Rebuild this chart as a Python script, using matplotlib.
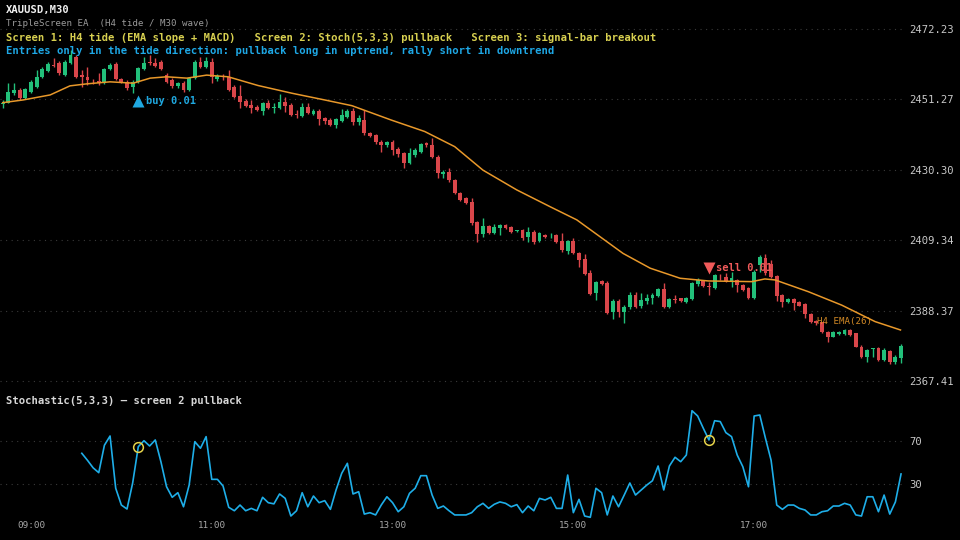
import matplotlib
matplotlib.use("Agg")
import matplotlib.pyplot as plt
import numpy as np

plt.rcParams['font.family'] = ['DejaVu Sans Mono']

# ---- data (M30 bars, oldest first) ----
opens = [2449.9, 2450.3, 2453.1, 2454.1, 2451.8, 2453.6, 2455.0, 2458.0, 2459.8, 2461.5,
         2462.2, 2458.5, 2462.1, 2464.0, 2458.5, 2458.0, 2456.5, 2456.8, 2456.2, 2460.2,
         2461.8, 2457.2, 2456.5, 2455.0, 2456.5, 2460.2, 2462.5, 2462.0, 2462.5, 2458.5,
         2457.0, 2455.3, 2456.2, 2454.1, 2457.6, 2462.5, 2461.0, 2462.5, 2457.2, 2458.2,
         2457.9, 2455.0, 2452.4, 2450.8, 2449.6, 2449.1, 2447.8, 2450.1, 2448.8, 2448.8,
         2450.6, 2449.6, 2446.8, 2446.4, 2449.1, 2446.8, 2447.8, 2445.6, 2445.1, 2443.6,
         2444.8, 2446.1, 2447.9, 2444.6, 2445.1, 2441.4, 2440.7, 2438.7, 2437.7, 2438.7,
         2436.5, 2435.2, 2432.2, 2434.7, 2435.5, 2438.2, 2437.7, 2434.2, 2429.0, 2429.7,
         2427.3, 2423.5, 2421.8, 2420.8, 2414.8, 2411.2, 2413.6, 2411.6, 2413.1, 2414.0,
         2413.4, 2412.1, 2412.4, 2410.2, 2411.9, 2409.2, 2411.0, 2410.5, 2411.0, 2409.1,
         2406.2, 2409.2, 2405.4, 2403.6, 2399.5, 2393.5, 2397.3, 2396.5, 2388.0, 2391.3,
         2388.0, 2389.5, 2393.0, 2389.7, 2391.3, 2392.0, 2392.8, 2394.7, 2389.5, 2391.8,
         2392.0, 2390.8, 2391.8, 2396.2, 2397.2, 2395.6, 2395.2, 2398.5, 2398.5, 2397.0,
         2397.5, 2396.0, 2395.0, 2392.2, 2401.9, 2404.1, 2402.2, 2398.8, 2393.0, 2390.8,
         2391.8, 2390.8, 2390.2, 2387.4, 2385.3, 2384.9, 2382.1, 2380.6, 2381.3, 2381.3,
         2382.6, 2381.6, 2377.6, 2374.6, 2376.8, 2377.1, 2373.7, 2376.3, 2373.0, 2374.2]
highs = [2451.1, 2456.1, 2456.1, 2454.7, 2454.7, 2457.0, 2460.0, 2460.9, 2462.5, 2463.5,
         2462.7, 2463.0, 2466.0, 2464.5, 2460.0, 2461.0, 2457.3, 2459.0, 2460.6, 2462.1,
         2462.3, 2457.6, 2457.0, 2457.0, 2460.9, 2464.0, 2464.5, 2463.6, 2463.0, 2459.1,
         2457.6, 2456.5, 2456.7, 2457.9, 2463.0, 2463.9, 2463.9, 2463.6, 2458.8, 2458.8,
         2460.0, 2455.6, 2455.6, 2451.4, 2451.1, 2449.6, 2450.6, 2451.1, 2450.1, 2452.8,
         2452.1, 2450.2, 2448.1, 2450.1, 2450.1, 2448.3, 2448.3, 2446.1, 2445.6, 2445.7,
         2448.4, 2448.4, 2448.8, 2446.6, 2448.1, 2441.7, 2441.1, 2439.2, 2439.0, 2439.2,
         2437.2, 2435.6, 2436.8, 2436.7, 2438.3, 2438.6, 2439.7, 2434.6, 2430.2, 2430.8,
         2427.7, 2423.8, 2422.3, 2421.8, 2415.2, 2415.9, 2413.9, 2414.2, 2414.2, 2414.3,
         2413.7, 2412.5, 2412.7, 2413.2, 2412.4, 2411.8, 2411.3, 2411.4, 2411.3, 2411.4,
         2409.5, 2409.9, 2405.8, 2405.2, 2400.5, 2397.3, 2397.6, 2397.3, 2391.7, 2391.7,
         2389.9, 2394.0, 2394.0, 2393.7, 2393.3, 2393.7, 2395.1, 2396.5, 2392.1, 2393.0,
         2392.1, 2392.4, 2396.9, 2398.1, 2397.5, 2397.0, 2399.3, 2399.2, 2399.5, 2400.0,
         2397.8, 2396.3, 2395.4, 2400.5, 2404.9, 2405.1, 2403.4, 2399.1, 2393.3, 2392.1,
         2392.1, 2391.1, 2390.6, 2387.7, 2385.6, 2385.1, 2382.4, 2382.3, 2382.4, 2382.9,
         2382.9, 2381.8, 2378.0, 2376.9, 2377.3, 2377.4, 2377.1, 2376.6, 2375.0, 2378.3]
lows = [2448.6, 2450.1, 2452.6, 2451.1, 2451.4, 2453.2, 2454.7, 2457.6, 2459.4, 2461.0,
        2458.5, 2458.2, 2461.8, 2457.6, 2455.0, 2455.6, 2455.9, 2455.6, 2455.9, 2459.9,
        2456.9, 2456.2, 2454.1, 2453.1, 2456.2, 2459.9, 2461.5, 2460.9, 2459.9, 2456.2,
        2454.8, 2454.8, 2453.6, 2453.8, 2457.2, 2460.6, 2460.6, 2456.1, 2456.7, 2457.0,
        2453.8, 2451.7, 2448.6, 2449.0, 2447.1, 2447.7, 2446.6, 2448.4, 2447.1, 2448.4,
        2447.4, 2446.2, 2445.6, 2446.0, 2446.8, 2446.5, 2443.6, 2443.9, 2443.2, 2442.7,
        2444.4, 2445.7, 2443.6, 2443.6, 2440.8, 2440.1, 2438.1, 2435.7, 2437.2, 2434.7,
        2434.2, 2430.8, 2431.9, 2434.2, 2435.2, 2437.2, 2433.8, 2427.8, 2427.8, 2426.8,
        2423.0, 2420.9, 2420.0, 2414.0, 2408.9, 2410.2, 2411.2, 2411.2, 2410.9, 2412.7,
        2411.5, 2411.8, 2409.5, 2408.9, 2408.2, 2408.8, 2410.1, 2409.9, 2408.5, 2405.9,
        2405.2, 2405.1, 2401.3, 2399.0, 2393.0, 2391.5, 2396.0, 2387.4, 2385.8, 2386.6,
        2384.6, 2388.8, 2389.1, 2389.1, 2390.3, 2390.3, 2392.4, 2389.1, 2389.1, 2390.5,
        2390.9, 2390.5, 2391.5, 2395.8, 2395.4, 2393.0, 2394.8, 2397.5, 2396.9, 2395.5,
        2393.8, 2394.2, 2391.8, 2391.8, 2400.0, 2399.1, 2398.1, 2391.2, 2389.5, 2390.5,
        2388.6, 2389.6, 2386.1, 2384.7, 2384.2, 2381.7, 2379.1, 2380.4, 2381.0, 2381.0,
        2380.8, 2377.4, 2374.3, 2373.2, 2374.6, 2373.4, 2373.4, 2372.6, 2372.6, 2372.7]
closes = [2450.3, 2453.6, 2454.1, 2451.6, 2454.3, 2456.5, 2458.0, 2460.2, 2461.8, 2461.2,
          2459.0, 2462.5, 2464.5, 2457.9, 2458.0, 2457.0, 2456.4, 2456.2, 2460.2, 2461.5,
          2457.2, 2456.5, 2454.6, 2456.5, 2460.5, 2462.2, 2462.0, 2461.2, 2460.2, 2456.5,
          2455.3, 2456.1, 2454.1, 2457.6, 2462.5, 2461.0, 2462.8, 2458.0, 2458.2, 2457.8,
          2454.1, 2452.1, 2450.6, 2449.4, 2448.6, 2448.1, 2450.1, 2448.8, 2449.1, 2450.6,
          2449.4, 2446.6, 2446.5, 2449.1, 2447.1, 2447.8, 2445.3, 2444.8, 2443.6, 2445.3,
          2446.6, 2447.9, 2444.6, 2445.6, 2441.2, 2440.4, 2438.5, 2437.7, 2438.7, 2436.2,
          2434.9, 2432.2, 2435.2, 2436.2, 2437.9, 2437.7, 2434.2, 2429.3, 2429.7, 2427.3,
          2423.3, 2421.3, 2420.3, 2414.4, 2411.2, 2413.6, 2411.6, 2413.2, 2413.9, 2413.1,
          2411.9, 2412.3, 2409.9, 2411.9, 2408.9, 2411.4, 2410.4, 2410.7, 2408.9, 2406.4,
          2409.2, 2405.4, 2403.4, 2399.3, 2393.3, 2397.0, 2396.3, 2387.7, 2391.3, 2388.0,
          2389.5, 2393.0, 2389.5, 2391.5, 2392.2, 2393.0, 2394.7, 2389.5, 2391.7, 2391.6,
          2391.2, 2392.0, 2396.5, 2397.5, 2395.8, 2395.4, 2399.0, 2398.3, 2397.2, 2398.0,
          2396.0, 2394.5, 2392.2, 2400.0, 2404.4, 2399.5, 2398.5, 2392.8, 2391.0, 2391.8,
          2390.5, 2389.8, 2387.3, 2385.1, 2384.6, 2382.1, 2380.6, 2381.9, 2382.1, 2382.6,
          2381.1, 2377.6, 2374.6, 2376.6, 2377.1, 2373.7, 2376.6, 2373.0, 2374.6, 2377.9]

# H4 EMA(26) projected on the M30 bars (bar index, price)
ema_idx = [0, 3.6, 8.4, 11.9, 14.9, 19, 23.1, 26.1, 29, 32.6, 36.1, 39.9, 45.2, 51.2, 57,
           61.8, 68.8, 74.7, 80, 85, 91, 96.9, 101.6, 105.7, 109.8, 114.6, 119.9, 124.9,
           132.6, 134.9, 136.7, 142.6, 148.5, 154.4, 158.9]
ema_val = [2450.3, 2451.1, 2452.6, 2455.3, 2455.9, 2456.5, 2456.1, 2457.6, 2458.0, 2457.6,
           2458.5, 2458.0, 2455.4, 2453.1, 2451.1, 2449.4, 2445.1, 2441.7, 2437.2, 2430.2,
           2424.3, 2419.3, 2415.4, 2410.4, 2405.4, 2401.0, 2398.0, 2397.2, 2397.0, 2397.8,
           2397.5, 2394.0, 2390.0, 2385.1, 2382.6]

# Stochastic(5,3,3) %K, first value at bar 14
stoch_start = 14
stoch = [58.5, 52, 45, 40.5, 66, 74.6, 26, 10.4, 6.7, 30.9,
         64.7, 70.2, 65.3, 70.9, 50.7, 27.4, 17.6, 21.9, 8.8, 29,
         69.3, 63.2, 74, 34.3, 34.3, 28.1, 8.3, 5.1, 10.4, 5.1,
         7.3, 5.1, 17.6, 12.6, 11.5, 20.7, 16.6, 0.2, 5.1, 21.9,
         8.8, 18.8, 12.6, 14.5, 6.4, 24.4, 39.9, 49.2, 20.7, 22.8,
         2, 3.3, 1.2, 10.4, 18.1, 12.6, 4.2, 8.8, 21.3, 26,
         37.7, 37.7, 19.7, 7.3, 9.5, 5.1, 1.2, 1.2, 1.2, 3.3,
         8.8, 12, 7.3, 11.1, 13.3, 12, 8.8, 10.8, 3.3, 9.5,
         5.1, 16.6, 15.1, 17.6, 7.3, 7.3, 38.3, 3.3, 15.7, 0.2,
         -1, 26, 21.9, 1.2, 18.8, 8.8, 19.7, 30.9, 19.7, 24.4,
         29, 33, 46.7, 24.4, 46.7, 54.8, 50.7, 56.9, 98.1, 93.2,
         81.8, 70.9, 88.8, 88, 77.7, 74, 56.9, 46, 27.4, 93.2,
         94.1, 72.5, 52, 10.4, 6.4, 10.4, 10.4, 7.3, 5.8, 1.2,
         1.2, 4.2, 5.1, 9.5, 9.5, 12, 10.4, 1.2, 0.2, 18.1,
         18.1, 4.2, 19.7, 2, 13.3, 39.3]

# signals
buy_bar, buy_price, buy_lot = 24, 2450.8, 0.01
sell_bar, sell_price, sell_lot = 125, 2401.1, 0.01

price_ticks = [2472.23, 2451.27, 2430.30, 2409.34, 2388.37, 2367.41]
time_pos = [5, 37, 69, 101, 133]
time_labels = ['09:00', '11:00', '13:00', '15:00', '17:00']

# ---- colours ----
BG = '#000000'
UP = '#22c07a'
DN = '#d9464a'
EMA_C = '#e8982a'
STO_C = '#1eaee8'
GRID = '#3a3a3a'
TXT = '#c8c8c8'

o = np.array(opens); h = np.array(highs); l = np.array(lows); c = np.array(closes)
x = np.arange(len(o))
cols = np.where(c >= o, UP, DN)

fig = plt.figure(figsize=(9.6, 5.4), dpi=100, facecolor=BG)
ax = fig.add_axes([0, 148 / 540, 905 / 960, 392 / 540], facecolor=BG)
ax2 = fig.add_axes([0, 20 / 540, 905 / 960, 125 / 540], facecolor=BG)

# price panel
for yt in price_ticks:
    ax.axhline(yt, color=GRID, lw=0.8, ls=(0, (1, 4)), zorder=0)
ax.vlines(x, l, h, colors=cols, lw=1, zorder=2)
body = np.maximum(np.abs(c - o), 0.15)
ax.bar(x, body, bottom=np.minimum(o, c), width=0.68, color=cols, zorder=3)
ax.plot(ema_idx, ema_val, color=EMA_C, lw=1.1, zorder=4)
ax.text(144.1, 2385.0, 'H4 EMA(26)', color=EMA_C, fontsize=6.6, va='center', ha='left',
        alpha=0.9, zorder=5)

ax.plot(buy_bar, buy_price, marker='^', ms=8.5, color='#1fa8e0', mec='none', zorder=6)
ax.text(buy_bar + 1.3, buy_price, 'buy %.2f' % buy_lot, color='#1fa8e0', fontsize=7.5,
        fontweight='bold', va='center', ha='left', zorder=6)
ax.plot(sell_bar, sell_price, marker='v', ms=8.5, color='#f05a5a', mec='none', zorder=6)
ax.text(sell_bar + 1.3, sell_price, 'sell %.2f' % sell_lot, color='#f05a5a', fontsize=7.5,
        fontweight='bold', va='center', ha='left', zorder=6)

ax.set_xlim(-0.48, 159.7)
ax.set_ylim(2364.13, 2480.87)
ax.yaxis.tick_right()
ax.set_yticks(price_ticks)
ax.set_yticklabels(['%.2f' % v for v in price_ticks])
ax.tick_params(axis='y', colors=TXT, labelsize=7.6, length=0, pad=3)
ax.set_xticks([])
for s in ax.spines.values():
    s.set_visible(False)

# stochastic panel
sx = np.arange(stoch_start, stoch_start + len(stoch))
for lv in (70, 30):
    ax2.axhline(lv, color=GRID, lw=0.8, ls=(0, (1, 4)), zorder=0)
ax2.plot(sx, stoch, color=STO_C, lw=1.2, zorder=2)
ax2.plot([sx[buy_bar - stoch_start], sx[sell_bar - stoch_start]],
         [stoch[buy_bar - stoch_start], stoch[sell_bar - stoch_start]],
         ls='none', marker='o', ms=7, mfc='none', mec='#e6d34a', mew=1.1, zorder=3)
ax2.set_xlim(-0.48, 159.7)
ax2.set_ylim(-3.5, 112.7)
ax2.yaxis.tick_right()
ax2.set_yticks([70, 30])
ax2.set_yticklabels(['70', '30'])
ax2.tick_params(axis='y', colors=TXT, labelsize=7.6, length=0, pad=3)
ax2.set_xticks(time_pos)
ax2.set_xticklabels(time_labels)
ax2.tick_params(axis='x', colors='#a8a8a8', labelsize=6.7, length=0, pad=1)
for s in ax2.spines.values():
    s.set_visible(False)

# header texts
fig.text(6 / 960, 1 - 10 / 540, 'XAUUSD,M30', color='#f0f0f0', fontsize=7.6,
         fontweight='bold', va='center', ha='left')
fig.text(6 / 960, 1 - 23 / 540, 'TripleScreen EA  (H4 tide / M30 wave)', color='#9a9a9a',
         fontsize=6.6, va='center', ha='left')
fig.text(6 / 960, 1 - 38 / 540,
         'Screen 1: H4 tide (EMA slope + MACD)   Screen 2: Stoch(5,3,3) pullback   '
         'Screen 3: signal-bar breakout',
         color='#d8d050', fontsize=7.6, fontweight='bold', va='center', ha='left')
fig.text(6 / 960, 1 - 51 / 540,
         'Entries only in the tide direction: pullback long in uptrend, rally short in downtrend',
         color='#1ea8e6', fontsize=7.6, fontweight='bold', va='center', ha='left')
fig.text(6 / 960, 1 - 401 / 540, 'Stochastic(5,3,3) \u2014 screen 2 pullback', color='#d8d8d8',
         fontsize=7.6, fontweight='bold', va='center', ha='left')

fig.savefig('out.png', dpi=100, facecolor=BG)
